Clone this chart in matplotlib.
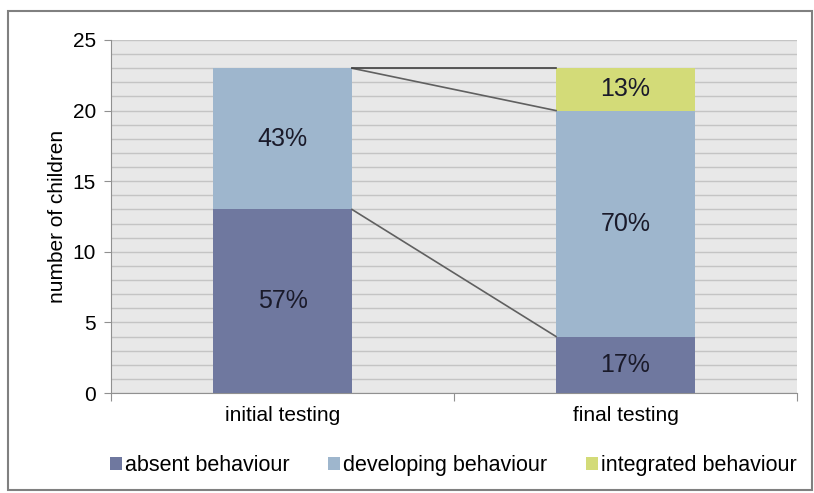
import numpy as np
from matplotlib import pyplot as plt
from matplotlib.patches import Rectangle

plt.rcParams['font.family'] = ['Liberation Sans', 'DejaVu Sans']

categories = ["initial testing", "final testing"]
absent = [13, 4]
developing = [10, 16]
integrated = [0, 3]
pct_absent = ["57%", "17%"]
pct_developing = ["43%", "70%"]
pct_integrated = ["", "13%"]

c_absent = "#6f789f"
c_dev = "#9eb6cd"
c_int = "#d3db78"

fig = plt.figure(figsize=(8.14, 4.93), dpi=100)
ax = fig.add_axes([0.1364, 0.2028, 0.8427, 0.7161])

x = np.arange(len(categories))
w = 0.405
absent = np.array(absent)
developing = np.array(developing)
integrated = np.array(integrated)

b1 = ax.bar(x, absent, w, color=c_absent, label="absent behaviour", zorder=3)
b2 = ax.bar(x, developing, w, bottom=absent, color=c_dev, label="developing behaviour", zorder=3)
b3 = ax.bar(x, integrated, w, bottom=absent + developing, color=c_int, label="integrated behaviour", zorder=3)

for i in range(len(categories)):
    ax.text(x[i], absent[i] / 2, pct_absent[i], ha="center", va="center", fontsize=18, color="#1a1a2a", zorder=4)
    ax.text(x[i], absent[i] + developing[i] / 2, pct_developing[i], ha="center", va="center", fontsize=18, color="#1a1a2a", zorder=4)
    if pct_integrated[i]:
        ax.text(x[i], absent[i] + developing[i] + integrated[i] / 2, pct_integrated[i], ha="center", va="center", fontsize=18, color="#1a1a2a", zorder=4)

# series lines between the bars
xl = x[0] + w / 2
xr = x[1] - w / 2
tops0 = absent + developing
tops1 = absent + developing + integrated
ax.plot([xl, xr], [absent[0], absent[1]], color="#606060", lw=1.2, zorder=4)
ax.plot([xl, xr], [tops0[0], tops0[1]], color="#606060", lw=1.2, zorder=4)
ax.plot([xl, xr], [tops1[0], tops1[1]], color="#404040", lw=1.2, zorder=4)

ax.set_xlim(-0.5, 1.5)
ax.set_ylim(0, 25)
ax.set_facecolor("#e8e8e8")
ax.set_yticks(np.arange(0, 26, 5))
ax.set_yticks(np.arange(0, 26, 1), minor=True)
ax.grid(axis="y", which="both", color="#c4c4c4", lw=1.0, zorder=1)
ax.set_xticks([-0.5, 0.5, 1.5])
ax.set_xticklabels([])
ax.set_xticks(x, minor=True)
ax.set_xticklabels(categories, minor=True, fontsize=15)
ax.tick_params(axis="x", which="minor", length=0, pad=9)
ax.tick_params(axis="x", which="major", length=6, color="#909090")
ax.tick_params(axis="y", which="major", length=5, color="#909090", labelsize=15, pad=6)
ax.tick_params(axis="y", which="minor", length=0)
for s in ["top", "right"]:
    ax.spines[s].set_visible(False)
for s in ["left", "bottom"]:
    ax.spines[s].set_color("#909090")
ax.set_ylabel("number of children", fontsize=15, labelpad=4)

fig.legend(handles=[b1, b2, b3], loc="center", bbox_to_anchor=(0.557, 0.055), ncol=3,
           frameon=False, fontsize=15.5, handlelength=0.55, handleheight=0.55,
           handletextpad=0.15, columnspacing=1.8)

fig.patches.append(Rectangle((8 / 814, 3 / 493), 804 / 814, 479 / 493, transform=fig.transFigure,
                             fill=False, edgecolor="#808080", lw=1.5))

plt.savefig("out.png")
